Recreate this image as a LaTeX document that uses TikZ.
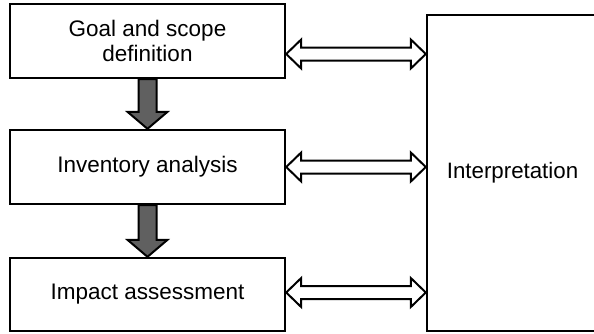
\documentclass[tikz,border=0pt]{standalone}
\usepackage{fontspec}
\setmainfont{Liberation Sans}
\usetikzlibrary{calc}
\definecolor{arrowgray}{HTML}{606060}
\tikzset{
  stage/.style={draw=black, line width=2.4pt, fill=white, minimum width=275pt, minimum height=74pt, inner sep=0pt, align=center, font=\fontsize{22.5}{25}\selectfont},
  interp/.style={draw=black, line width=2.4pt, fill=white, minimum width=171pt, minimum height=316pt, inner sep=0pt, font=\fontsize{22.3}{25}\selectfont},
  dblarrow/.style={draw=black, line width=2pt, fill=white, line join=miter,
    to path={let \p1=(\tikztostart), \p2=(\tikztotarget) in
      (\x1,\y1) -- (\x1+15pt,\y1+14.5pt) -- (\x1+15pt,\y1+6.5pt) -- (\x2-15pt,\y1+6.5pt) -- (\x2-15pt,\y1+14.5pt) -- (\x2,\y1)
      -- (\x2-15pt,\y1-14.5pt) -- (\x2-15pt,\y1-6.5pt) -- (\x1+15pt,\y1-6.5pt) -- (\x1+15pt,\y1-14.5pt) -- cycle}},
  downarrow/.style={draw=black, line width=2pt, fill=arrowgray, line join=miter,
    to path={let \p1=(\tikztostart), \p2=(\tikztotarget) in
      (\x1-9pt,\y1) -- (\x1-9pt,\y2+17pt) -- (\x1-20pt,\y2+17pt) -- (\x1,\y2)
      -- (\x1+20pt,\y2+17pt) -- (\x1+9pt,\y2+17pt) -- (\x1+9pt,\y1) -- cycle}}
}
\begin{document}
\begin{tikzpicture}[x=1pt,y=-1pt]
\useasboundingbox (0,0) rectangle (594,333);
\clip (0,0) rectangle (594,333);
\node[stage] (g) at (147.5,41) {Goal and scope\\definition};
\node[stage] (i) at (147.5,167) {Inventory analysis};
\node[stage, minimum height=73pt] (m) at (147.5,294.5) {Impact assessment};
\node[interp] (r) at (512.5,173) {Interpretation};
\draw[downarrow] (g.south) to (i.north);
\draw[downarrow] (i.south) to (m.north);
\coordinate (a1) at ($(g.east)+(0,13)$);
\coordinate (a2) at ($(i.east)$);
\coordinate (a3) at ($(m.east)+(0,-2)$);
\draw[dblarrow] (a1) to (a1 -| r.west);
\draw[dblarrow] (a2) to (a2 -| r.west);
\draw[dblarrow] (a3) to (a3 -| r.west);
\end{tikzpicture}
\end{document}
